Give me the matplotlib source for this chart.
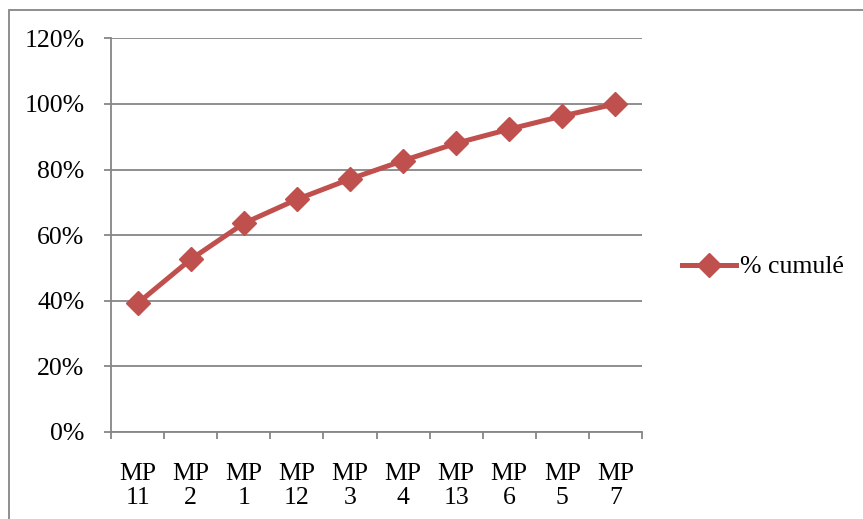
import matplotlib
matplotlib.use("Agg")
import matplotlib.pyplot as plt
from matplotlib.patches import Rectangle
from matplotlib.ticker import MultipleLocator, FuncFormatter

categories = ["MP\n11", "MP\n2", "MP\n1", "MP\n12", "MP\n3", "MP\n4", "MP\n13", "MP\n6", "MP\n5", "MP\n7"]
cumul = [39.2, 52.6, 63.6, 70.9, 77.1, 82.7, 88.0, 92.3, 96.3, 100.0]

plt.rcParams['font.family'] = ['Liberation Serif', 'DejaVu Serif']
plt.rcParams['font.size'] = 18.5

W, H = 863, 519
fig = plt.figure(figsize=(W / 100, H / 100), dpi=100)
ax = fig.add_axes([111 / W, 1 - 432 / H, (642 - 111) / W, (432 - 38.3) / H])

grey = '#868686'
red = '#C0504D'

# outer chart border (right/bottom edges fall outside the image)
fig.patches.append(Rectangle((9 / W, -0.05), 1.1, 1 - 10 / H + 0.05, transform=fig.transFigure,
                             fill=False, edgecolor=grey, linewidth=1.3))

x = list(range(len(categories)))
ax.plot(x, cumul, color=red, linewidth=3.6, marker='D', markersize=12,
        label='% cumulé', zorder=3)

ax.set_xlim(-0.5, len(categories) - 0.5)
ax.set_ylim(0, 120)
ax.yaxis.set_major_locator(MultipleLocator(20))
ax.yaxis.set_major_formatter(FuncFormatter(lambda v, p: f"{v:.0f}%"))
ax.grid(axis='y', color=grey, linewidth=1.3)
ax.set_axisbelow(True)

ax.set_xticks([i - 0.5 for i in range(len(categories) + 1)])
ax.set_xticklabels([])
ax.set_xticks(x, minor=True)
ax.set_xticklabels(categories, minor=True, linespacing=1.12)
ax.tick_params(axis='x', which='major', direction='out', length=5, width=1.3, color=grey)
ax.tick_params(axis='x', which='minor', length=0, pad=22)
ax.tick_params(axis='y', direction='out', length=5, width=1.3, color=grey, pad=14)

for s in ['top', 'right']:
    ax.spines[s].set_visible(False)
for s in ['left', 'bottom']:
    ax.spines[s].set_color(grey)
    ax.spines[s].set_linewidth(1.3)

ax.legend(loc='center left', bbox_to_anchor=(682 / W, 1 - 267 / H), bbox_transform=fig.transFigure,
          frameon=False, handlelength=2.1, handletextpad=0.15, borderaxespad=0, borderpad=0)

fig.savefig('out.png', dpi=100)
